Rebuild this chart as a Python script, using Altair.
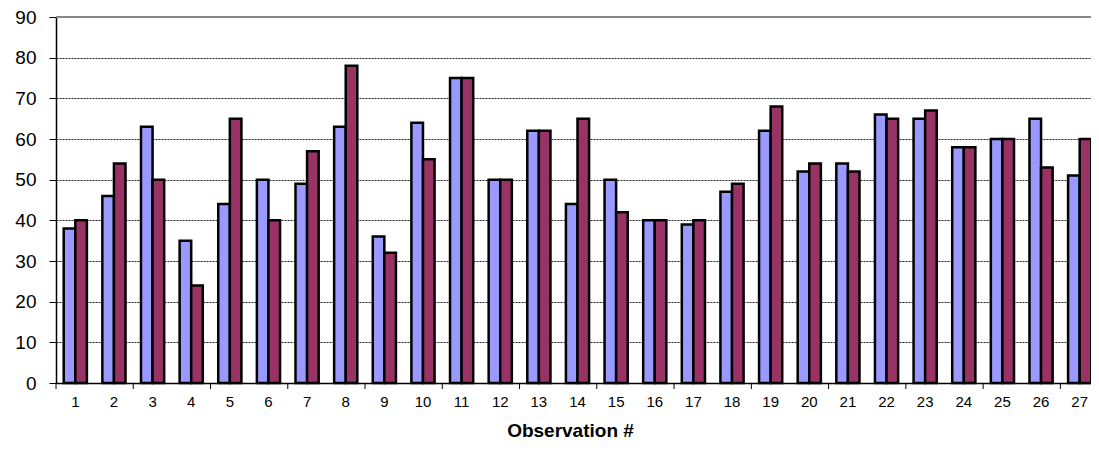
import altair as alt
import pandas as pd

observations = list(range(1, 28))
series1 = [38, 46, 63, 35, 44, 50, 49, 63, 36, 64, 75, 50, 62, 44, 50, 40, 39, 47, 62, 52, 54, 66, 65, 58, 60, 65, 51]
series2 = [40, 54, 50, 24, 65, 40, 57, 78, 32, 55, 75, 50, 62, 65, 42, 40, 40, 49, 68, 54, 52, 65, 67, 58, 60, 53, 60]
series_names = ["Series1", "Series2"]
series_colors = ["#9999FF", "#993366"]
y_ticks = list(range(0, 91, 10))
x_tick_positions = list(range(0, 27, 2))
y_max = 90

rows = []
for i, o in enumerate(observations):
    rows.append({"obs": o, "series": series_names[0], "value": series1[i]})
    rows.append({"obs": o, "series": series_names[1], "value": series2[i]})
df = pd.DataFrame(rows)

FONT = "Liberation Sans"
W, H = 1035, 366
FULL_W = 1043  # plot area continues past the right edge of the picture

y_axis = alt.Axis(
    values=y_ticks, title=None, grid=True, gridDash=[2, 1],
    gridColor="#222222", gridWidth=1, tickSize=7, tickColor="black",
    labelPadding=13, labelFontSize=19, labelFont=FONT,
    labelColor="black", domainColor="black", domainWidth=1.5,
)
y_scale = alt.Scale(domain=[0, y_max], nice=False)

bars = alt.Chart(df).mark_bar(stroke="black", strokeWidth=2.5).encode(
    x=alt.X(
        "obs:O",
        title="Observation #",
        scale=alt.Scale(paddingInner=0.4, paddingOuter=0.2, range=[0, FULL_W]),
        axis=alt.Axis(
            labelAngle=0, ticks=False, labelFontSize=15, labelFont=FONT,
            labelColor="black", labelPadding=11, domainColor="black",
            domainWidth=1.5, titleFont=FONT, titleFontSize=19,
            titleFontWeight="bold", titleColor="black", titlePadding=12,
            titleX=514, grid=False,
        ),
    ),
    xOffset=alt.XOffset("series:N", scale=alt.Scale(domain=series_names, paddingInner=0, paddingOuter=0)),
    y=alt.Y("value:Q", scale=y_scale, axis=y_axis),
    color=alt.Color("series:N", scale=alt.Scale(domain=series_names, range=series_colors), legend=None),
)

top_df = pd.DataFrame({"value": [y_max]})
top = alt.Chart(top_df).mark_rule(color="#868686", strokeWidth=2).encode(
    y=alt.Y("value:Q", scale=y_scale, axis=y_axis),
    x=alt.value(0),
    x2=alt.value(FULL_W),
)

ticks_df = pd.DataFrame({"pos": x_tick_positions})
xticks = alt.Chart(ticks_df).mark_rule(color="black", strokeWidth=1).encode(
    x=alt.X("pos:Q", scale=alt.Scale(domain=[0, 27], nice=False, zero=False, range=[0, FULL_W]), axis=None),
    y=alt.value(H),
    y2=alt.value(H + 6),
)

chart = alt.layer(bars, top, xticks).resolve_scale(x="independent").properties(
    width=W,
    height=H,
    autosize=alt.AutoSizeParams(type="none"),
    padding={"left": 48, "top": 9, "right": 0, "bottom": 59},
).configure_view(stroke=None).configure(background="white")

chart.save("out.html", embed_options={"renderer": "svg", "actions": False})
